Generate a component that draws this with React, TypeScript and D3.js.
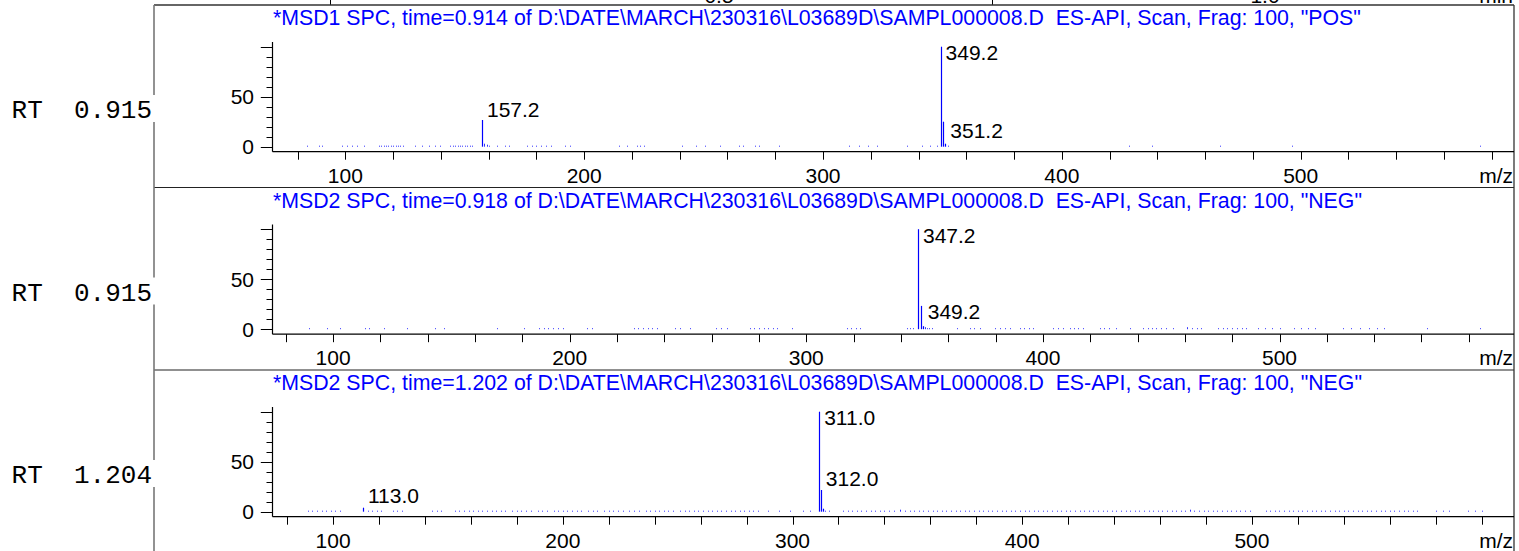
import React from "react";
import * as d3 from "d3";

const W = 1519;
const H = 551;

const titles = [
  '*MSD1 SPC, time=0.914 of D:\\DATE\\MARCH\\230316\\L03689D\\SAMPL000008.D  ES-API, Scan, Frag: 100, "POS"',
  '*MSD2 SPC, time=0.918 of D:\\DATE\\MARCH\\230316\\L03689D\\SAMPL000008.D  ES-API, Scan, Frag: 100, "NEG"',
  '*MSD2 SPC, time=1.202 of D:\\DATE\\MARCH\\230316\\L03689D\\SAMPL000008.D  ES-API, Scan, Frag: 100, "NEG"',
];
const rtLabels = ["RT  0.915", "RT  0.915", "RT  1.204"];
const xDomains: [number, number][] = [
  [69.5, 589.3],
  [74.4, 599.1],
  [73.6, 614.1],
];
const xMajorTicks = [100, 200, 300, 400, 500];
const xMinorTicks = [80, 100, 120, 140, 160, 180, 200, 220, 240, 260, 280, 300, 320, 340, 360, 380, 400, 420, 440, 460, 480, 500, 520, 540, 560, 580, 600];
const yTicks = [0, 10, 20, 30, 40, 50, 60, 70, 80, 90, 100];
const yLabeled = [0, 50];
const yLong = [0, 50, 100];

// main peaks [m/z, %]
const peaks1: [number, number][] = [[157.2, 26.7], [349.2, 100], [350.2, 25], [351.2, 3]];
const peaks2: [number, number][] = [[347.2, 100], [348.5, 23.3], [349.2, 3]];
const peaks3: [number, number][] = [[113.0, 4], [311.6, 100], [312.3, 21.7], [313.2, 3]];

// peak labels: text, m/z, label baseline level (%)
const labels1 = [
  { text: "157.2", mz: 157.2, level: 30 },
  { text: "349.2", mz: 349.2, level: 86.7 },
  { text: "351.2", mz: 351.2, level: 8.4 },
];
const labels2 = [
  { text: "347.2", mz: 347.2, level: 86.7 },
  { text: "349.2", mz: 349.2, level: 10 },
];
const labels3 = [
  { text: "113.0", mz: 113.0, level: 8.4 },
  { text: "311.0", mz: 311.6, level: 86.7 },
  { text: "312.0", mz: 312.3, level: 26 },
];

// baseline noise [m/z, %]
const noise1: [number, number][] = [
  [84, 1], [88.8, 1], [90.2, 1], [98.6, 1], [100.7, 1], [102.8, 1], [104.9, 1], [107.7, 1],
  [114, 1], [115, 1], [116, 1], [117, 1], [118, 1], [119, 1], [120, 1], [121, 1], [122, 1], [123, 1], [124, 1],
  [129.3, 1], [132, 1], [134.9, 1], [137.7, 1], [139.8, 1],
  [144, 1], [145, 1], [146, 1], [147, 1], [148, 1], [149, 1], [150, 1], [151, 1], [152, 1], [153, 1],
  [158.2, 3], [159.2, 2], [160.2, 1], [163.5, 1], [167, 1], [168.4, 1],
  [176, 1], [178, 1], [180, 1], [182, 1], [184, 1], [186, 1], [192, 1], [194, 1],
  [214.4, 1], [218, 1], [222, 1], [223.5, 1], [225, 1], [241, 1], [247, 1], [250.7, 1], [257, 1],
  [265, 1], [266.5, 1], [271.6, 1], [273, 1], [281.4, 1],
  [310.7, 1], [315, 1], [319, 1], [322.6, 1], [335, 1], [341.4, 1], [344.9, 1], [347.7, 1], [352.2, 1],
  [427.9, 1], [437.7, 1], [466.3, 1], [496.3, 1], [575, 1],
];
const noise2: [number, number][] = [
  [89.7, 1], [97.5, 1], [103, 1], [113.6, 1], [115, 1], [121.4, 1], [131.3, 1], [143.2, 1], [146.7, 1],
  [169.3, 1], [180.5, 1], [187, 1], [189, 1], [191, 1], [193, 1], [195, 1], [197, 1], [207.3, 1], [209.4, 1],
  [227, 1], [229, 1], [231, 1], [233, 1], [235, 1], [237, 1], [244.6, 1], [246.7, 1], [251, 1],
  [262, 1], [264, 1], [266.5, 1], [276, 1], [278, 1], [280, 1], [282, 1], [284, 1], [286, 1], [287.6, 1], [294, 1],
  [317, 1], [319, 1], [321, 1], [322.8, 1], [342.5, 1], [344, 1], [345.3, 1],
  [350, 2], [351, 1], [352, 1], [353, 1], [363.6, 1], [369, 1], [371, 1], [373.5, 1],
  [379.8, 1], [382, 1], [384, 1], [386.2, 1], [390.4, 1], [392, 1], [394, 1], [396, 1],
  [404.4, 1], [406.5, 1], [408.6, 1], [411.5, 1], [413, 1], [415, 1], [417, 1],
  [424, 1], [426, 1], [428, 1], [431, 1], [436.8, 1], [442.5, 1], [444.5, 1], [446, 1], [448, 1], [450, 1], [452, 1], [455, 1],
  [461, 2], [463, 1], [465, 1], [467, 1], [474, 1], [476, 1], [478, 1], [480, 1], [482, 1], [484, 1], [486, 1],
  [491, 1], [494, 1], [497, 1], [500, 1], [506, 1], [509, 1], [512, 1], [515, 1],
  [527, 1], [530, 1], [534, 1], [538, 1], [541, 1], [544, 1], [562.2, 1], [584.7, 1],
];
const noise3: [number, number][] = [
  [89, 1], [91, 1], [93, 1], [95, 1], [97, 1], [99, 1], [101, 1], [103, 1],
  [115, 1], [117, 1], [119, 1], [121, 1], [126, 1], [128, 1], [130, 1], [143, 1], [145, 1], [147, 1],
  [153, 1], [155, 1], [157, 1], [159, 1], [161, 1], [163, 1], [165, 1], [167, 1], [169, 1], [171, 1], [173, 1], [175, 1],
  [178, 1], [180, 1], [182, 1], [184, 1], [186, 1], [189, 1], [191, 1], [193, 1], [196, 1], [198, 1],
  [200, 1], [202, 1], [204, 1], [206, 1], [208, 1], [211, 1], [213, 1], [215, 1], [218, 1], [220, 1],
  [222, 1], [224, 1], [226, 1], [229, 1], [231, 1], [233, 1], [236, 1], [238, 1], [240, 1], [242, 1],
  [244, 1], [246, 1], [248, 1], [251, 1], [253, 1], [255, 1], [257, 1], [259, 1], [261, 1], [263, 1],
  [265, 1], [267, 1], [269, 1], [271, 1], [273, 1], [275, 1], [277, 1], [279, 1], [281, 1], [283, 1],
  [285, 1], [289.5, 1], [293.9, 1], [299, 1], [304.6, 1], [307.7, 1], [314, 1], [316, 1],
  [322, 1], [324, 1], [326, 1], [328, 1], [330, 1], [332, 1], [334, 1], [336, 1], [338, 1], [340, 1],
  [342, 1], [344, 1], [347, 2], [349, 1], [351, 1], [353, 1], [355, 1], [357, 1], [359, 1], [361, 1],
  [363, 1], [365, 1], [367, 1], [369, 1], [371, 1], [373, 1], [375, 1], [377, 1], [379, 1], [381, 1],
  [383, 1], [385, 1], [387, 1], [389, 1], [391, 1], [393, 1], [395, 1], [397, 1], [399, 1], [401, 1],
  [403, 1], [405, 1], [407, 1], [409, 1], [411, 1], [413, 1], [415, 1], [417, 1], [419, 1], [421, 1],
  [423, 1], [425, 1], [427, 1], [429, 1], [431, 1], [433, 1], [435, 1], [437, 1], [439, 1], [441, 1],
  [443, 1], [445, 1], [447, 1], [449, 1], [451, 1], [453, 1], [455, 1], [457, 1], [459, 1], [461, 1],
  [463, 1], [465, 1], [467, 1], [469, 1], [471, 1], [473, 2], [475, 1], [477, 1], [479, 1], [481, 1],
  [483, 1], [485, 1], [487, 1], [489, 1], [491, 1], [493, 1], [495, 1], [497, 1], [499, 1],
  [506, 1], [508, 1], [510, 1], [512, 1], [514, 1], [516, 1], [518, 1], [520, 1], [522, 1], [524, 1],
  [526, 1], [528, 1], [530, 1], [532, 1], [534, 1], [536, 1], [538, 1], [540, 1], [542, 1], [544, 1],
  [546, 1], [548, 1], [550, 1], [552, 1], [554, 1], [556, 1], [558, 1], [560, 1], [562, 1], [564, 1],
  [566, 1], [568, 1], [570, 1], [572, 1], [580, 1], [583, 1], [586, 1], [594, 1], [597, 1], [600, 1],
];

const peakSets = [peaks1, peaks2, peaks3];
const labelSets = [labels1, labels2, labels3];
const noiseSets = [noise1, noise2, noise3];

// remnant of the chromatogram axis above (cut off at top)
const upperTickLabels = [
  { text: "0.5", t: 0.5 },
  { text: "1.0", t: 1.0 },
];
const upperTicks = [0.144, 0.75];

const BLUE = "#0000ff";
const FONT = "'Liberation Sans', Arial, Helvetica, sans-serif";
const MONO = "'Liberation Mono', 'Courier New', monospace";

const panelTops = [5, 187.5, 370];
const X0 = 272.5;
const X1 = 1514;
const FRAME_X = 154;

function Panel({ i }: { i: number }) {
  const T = panelTops[i];
  const x = d3.scaleLinear().domain(xDomains[i]).range([X0, X1]);
  const y = d3.scaleLinear().domain([0, 100]).range([T + 141.7, T + 41.7]);
  const axisY = T + 146.7;
  const minor = xMinorTicks.filter((v) => x(v) > X0 && x(v) < X1 - 4);
  return (
    <g>
      <text x={273} y={T + 20} fill={BLUE} fontFamily={FONT} fontSize={21.3} style={{ whiteSpace: "pre" }}>
        {titles[i]}
      </text>
      {/* y axis */}
      <line x1={X0} x2={X0} y1={T + 37} y2={axisY} stroke="#000" strokeWidth={1.2} />
      {yTicks.map((v) => (
        <line
          key={"yt" + v}
          x1={X0 - (yLong.includes(v) ? 11.7 : 6)}
          x2={X0}
          y1={Math.round(y(v)) + 0.5}
          y2={Math.round(y(v)) + 0.5}
          stroke="#000"
          strokeWidth={1}
        />
      ))}
      {yLabeled.map((v) => (
        <text key={"yl" + v} x={254} y={y(v)} dy="0.36em" textAnchor="end" fontFamily={FONT} fontSize={21} fill="#000">
          {v}
        </text>
      ))}
      {/* x axis */}
      <line x1={X0} x2={X1} y1={axisY} y2={axisY} stroke="#000" strokeWidth={1.2} />
      {minor.map((v) => (
        <line key={"xt" + v} x1={Math.round(x(v)) + 0.5} x2={Math.round(x(v)) + 0.5} y1={axisY} y2={axisY + 8} stroke="#000" strokeWidth={1} />
      ))}
      {xMajorTicks.map((v) => (
        <text key={"xl" + v} x={x(v)} y={T + 177.7} textAnchor="middle" fontFamily={FONT} fontSize={21} fill="#000">
          {v}
        </text>
      ))}
      <text x={1513} y={T + 177.7} textAnchor="end" fontFamily={FONT} fontSize={21} fill="#000">
        m/z
      </text>
      {/* noise */}
      {noiseSets[i].map(([m, h], k) => (
        <line key={"n" + k} x1={Math.round(x(m)) + 0.5} x2={Math.round(x(m)) + 0.5} y1={y(0)} y2={y(h)} stroke={BLUE} strokeWidth={1} opacity={0.8} />
      ))}
      {/* peaks */}
      {peakSets[i].map(([m, h], k) => (
        <line key={"p" + k} x1={Math.round(x(m)) + 0.5} x2={Math.round(x(m)) + 0.5} y1={y(0)} y2={y(h)} stroke={BLUE} strokeWidth={1.2} />
      ))}
      {labelSets[i].map((l) => (
        <text key={"pl" + l.text} x={x(l.mz) + 5} y={y(l.level)} fontFamily={FONT} fontSize={21} fill="#000">
          {l.text}
        </text>
      ))}
      {/* RT label */}
      <text x={152} y={T + 113} textAnchor="end" fontFamily={MONO} fontSize={26} fill="#000" style={{ whiteSpace: "pre" }}>
        {rtLabels[i]}
      </text>
    </g>
  );
}

export default function App() {
  const tScale = d3.scaleLinear().domain([0, 1]).range([173, 1265]);
  const gaps = panelTops.map((T) => [T + 90, T + 117]);
  const segs: [number, number][] = [];
  let start = 5;
  gaps.forEach(([a, b]) => {
    segs.push([start, a]);
    start = b;
  });
  segs.push([start, H]);
  return (
    <svg width={W} height={H} style={{ position: "absolute", left: 0, top: 0, background: "#fff" }}>
      <rect x={0} y={0} width={W} height={H} fill="#fff" />
      {/* cut-off upper axis remnants */}
      {upperTickLabels.map((u) => (
        <text key={u.text} x={tScale(u.t)} y={2.5} textAnchor="middle" fontFamily={FONT} fontSize={21} fill="#000">
          {u.text}
        </text>
      ))}
      <text x={1513} y={2.5} textAnchor="end" fontFamily={FONT} fontSize={21} fill="#000">
        min
      </text>
      {upperTicks.map((t) => (
        <line key={"ut" + t} x1={Math.round(tScale(t)) + 0.5} x2={Math.round(tScale(t)) + 0.5} y1={0} y2={5} stroke="#000" strokeWidth={1} />
      ))}
      {/* frame */}
      <line x1={FRAME_X} x2={X1} y1={5} y2={5} stroke="#333" strokeWidth={1.3} />
      {panelTops.slice(1).map((T) => (
        <line key={"sep" + T} x1={FRAME_X} x2={X1} y1={T} y2={T} stroke="#222" strokeWidth={1.2} />
      ))}
      <line x1={X1} x2={X1} y1={5} y2={H} stroke="#333" strokeWidth={1.3} />
      {segs.map(([a, b], k) => (
        <line key={"ls" + k} x1={FRAME_X} x2={FRAME_X} y1={a} y2={b} stroke="#777" strokeWidth={1.6} />
      ))}
      {panelTops.map((_, i) => (
        <Panel key={i} i={i} />
      ))}
    </svg>
  );
}
